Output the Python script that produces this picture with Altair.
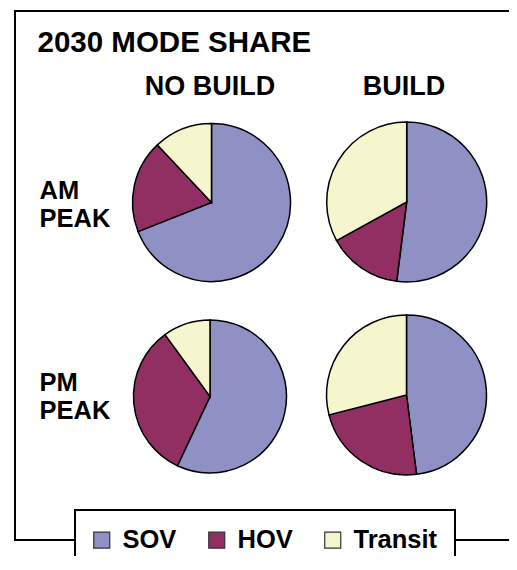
import altair as alt
import pandas as pd

# ---- data ----
title_text = "2030 MODE SHARE"
periods = ["AM PEAK", "PM PEAK"]
scenarios = ["NO BUILD", "BUILD"]
modes = ["SOV", "HOV", "Transit"]
am_no_build = [69, 19, 12]
am_build = [52, 15, 33]
pm_no_build = [57, 33, 10]
pm_build = [48, 23, 29]
mode_colors = ["#8F90C3", "#922F62", "#F6F6CE"]

series = {
    ("AM PEAK", "NO BUILD"): am_no_build,
    ("AM PEAK", "BUILD"): am_build,
    ("PM PEAK", "NO BUILD"): pm_no_build,
    ("PM PEAK", "BUILD"): pm_build,
}
rows = []
for (p, s), vals in series.items():
    for k, (m, v) in enumerate(zip(modes, vals)):
        rows.append({"period": p, "scenario": s, "mode": m, "share": v, "k": k})
df = pd.DataFrame(rows)

# ---- layout (pixels, chart coords = page coords - 8) ----
FONT = "Liberation Sans"
W, H = 501, 548
pie_layout = {
    ("AM PEAK", "NO BUILD"): (203.5, 194.5, 79),
    ("AM PEAK", "BUILD"): (398.7, 194.0, 80),
    ("PM PEAK", "NO BUILD"): (202.0, 388.5, 76.5),
    ("PM PEAK", "BUILD"): (398.5, 387.0, 80),
}
col_x = [202, 396]
row_y = [191, 383]

legend = alt.Legend(
    orient="none", legendX=67, legendY=502, direction="horizontal", title=None,
    symbolType="square", symbolSize=256, symbolStrokeColor="#333333",
    symbolStrokeWidth=1.2, symbolOpacity=1, symbolOffset=-3,
    labelFont=FONT, labelFontSize=25.5, labelFontWeight="bold", labelColor="black",
    strokeColor="black", fillColor="white", padding=17, columnPadding=29,
    labelOffset=8, labelLimit=300,
)
color = alt.Color("mode:N", scale=alt.Scale(domain=modes, range=mode_colors), legend=legend)

dummy = pd.DataFrame({"d": [0]})
layers = []

# frame
rule = dict(color="black", strokeWidth=2, strokeCap="square")
layers.append(alt.Chart(dummy).mark_rule(**rule).encode(
    x=alt.value(7), y=alt.value(3), y2=alt.value(532)))
layers.append(alt.Chart(dummy).mark_rule(**rule).encode(
    x=alt.value(7), x2=alt.value(W + 10), y=alt.value(3)))
layers.append(alt.Chart(dummy).mark_rule(**rule).encode(
    x=alt.value(7), x2=alt.value(W + 10), y=alt.value(532)))

# pies
for (p, s), (cx, cy, r) in pie_layout.items():
    layers.append(
        alt.Chart(df)
        .transform_filter((alt.datum.period == p) & (alt.datum.scenario == s))
        .mark_arc(outerRadius=r, stroke="black", strokeWidth=1.5)
        .encode(
            theta=alt.Theta("share:Q", stack="normalize"),
            color=color,
            order=alt.Order("k:Q"),
            x=alt.value(cx),
            y=alt.value(cy),
        )
    )

# texts
layers.append(alt.Chart(dummy).mark_text(
    font=FONT, fontSize=29.5, fontWeight="bold", align="left", baseline="alphabetic", color="black"
).encode(x=alt.value(29.5), y=alt.value(44), text=alt.value(title_text)))
for s, cx in zip(scenarios, col_x):
    layers.append(alt.Chart(dummy).mark_text(
        font=FONT, fontSize=27, fontWeight="bold", align="center", baseline="alphabetic", color="black"
    ).encode(x=alt.value(cx), y=alt.value(87), text=alt.value(s)))
for p, ry in zip(periods, row_y):
    layers.append(alt.Chart(dummy).mark_text(
        font=FONT, fontSize=25.5, fontWeight="bold", align="left", baseline="alphabetic",
        color="black", lineHeight=28
    ).encode(x=alt.value(31.5), y=alt.value(ry), text=alt.value(p.split(" "))))

chart = (
    alt.layer(*layers)
    .properties(width=W, height=H, autosize=alt.AutoSizeParams(type="none"), padding=0)
    .configure_view(stroke=None)
    .configure_legend(strokeWidth=2)
)

chart.save("out.html", embed_options={"renderer": "svg", "actions": False})
